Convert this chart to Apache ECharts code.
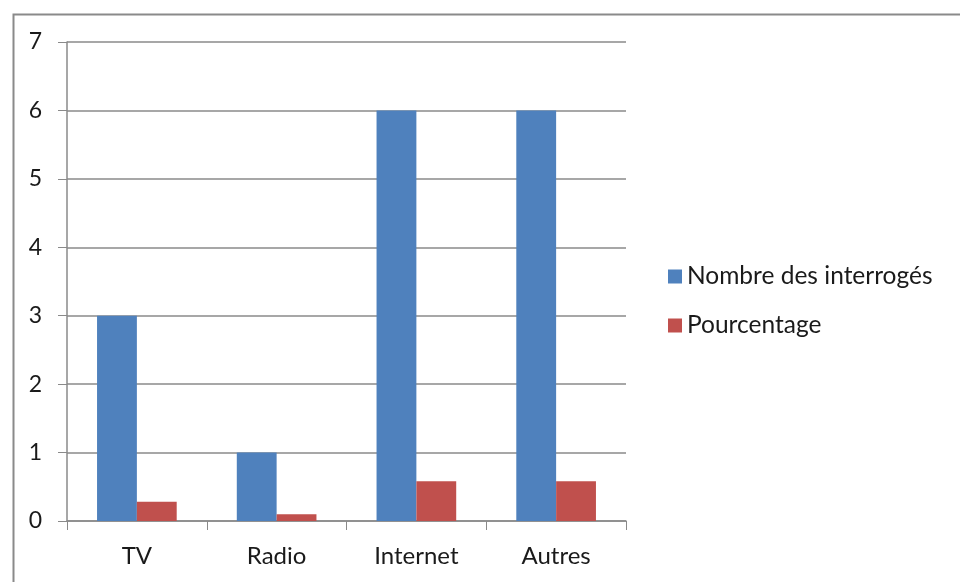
<!DOCTYPE html>
<html><head><meta charset="utf-8">
<script src="https://cdn.jsdelivr.net/npm/echarts@6/dist/echarts.min.js"></script>
<style>html,body{margin:0;padding:0;background:#fff}#c{width:960px;height:582px}</style>
</head><body><div id="c"></div>
<script>
const categories = ['TV', 'Radio', 'Internet', 'Autres'];
const seriesNames = ['Nombre des interrogés', 'Pourcentage'];
const nombre = [3, 1, 6, 6];
const pourcentage = [0.28, 0.1, 0.58, 0.58];
const yTicks = [0, 1, 2, 3, 4, 5, 6, 7];

const chart = echarts.init(document.getElementById('c'));
const font = 'Lato, "Open Sans", sans-serif';
chart.setOption({
  animation: false,
  backgroundColor: '#fff',
  graphic: [{
    type: 'rect', left: 11, top: 12,
    shape: { width: 1000, height: 1000 },
    style: { fill: 'none', stroke: '#8a8a8a', lineWidth: 2 }
  }],
  grid: { left: 67, right: 334, top: 42, bottom: 61 },
  legend: {
    orient: 'vertical', left: 663, top: 259, itemWidth: 14, itemHeight: 14, itemGap: 24,
    icon: 'rect',
    textStyle: { fontFamily: font, fontSize: 24.5, color: '#1a1a1a' },
    data: seriesNames
  },
  xAxis: {
    type: 'category', data: categories,
    axisLine: { lineStyle: { color: '#8a8a8a', width: 1.5 } },
    axisTick: { show: true, length: 9, lineStyle: { color: '#8a8a8a' } },
    axisLabel: { fontFamily: font, fontSize: 24, color: '#1a1a1a', margin: 23 }
  },
  yAxis: {
    type: 'value', min: yTicks[0], max: yTicks[yTicks.length - 1], interval: 1,
    axisLine: { show: true, lineStyle: { color: '#8a8a8a', width: 1.5 } },
    axisTick: { show: true, length: 9, lineStyle: { color: '#8a8a8a' } },
    splitLine: { lineStyle: { color: '#8a8a8a', width: 1.5 } },
    axisLabel: { fontFamily: font, fontSize: 23, color: '#1a1a1a', margin: 25 }
  },
  series: [
    { name: seriesNames[0], type: 'bar', data: nombre, barGap: '0%', barCategoryGap: '43%',
      itemStyle: { color: '#4F81BD' } },
    { name: seriesNames[1], type: 'bar', data: pourcentage,
      itemStyle: { color: '#C0504D' } }
  ]
});
</script></body></html>
